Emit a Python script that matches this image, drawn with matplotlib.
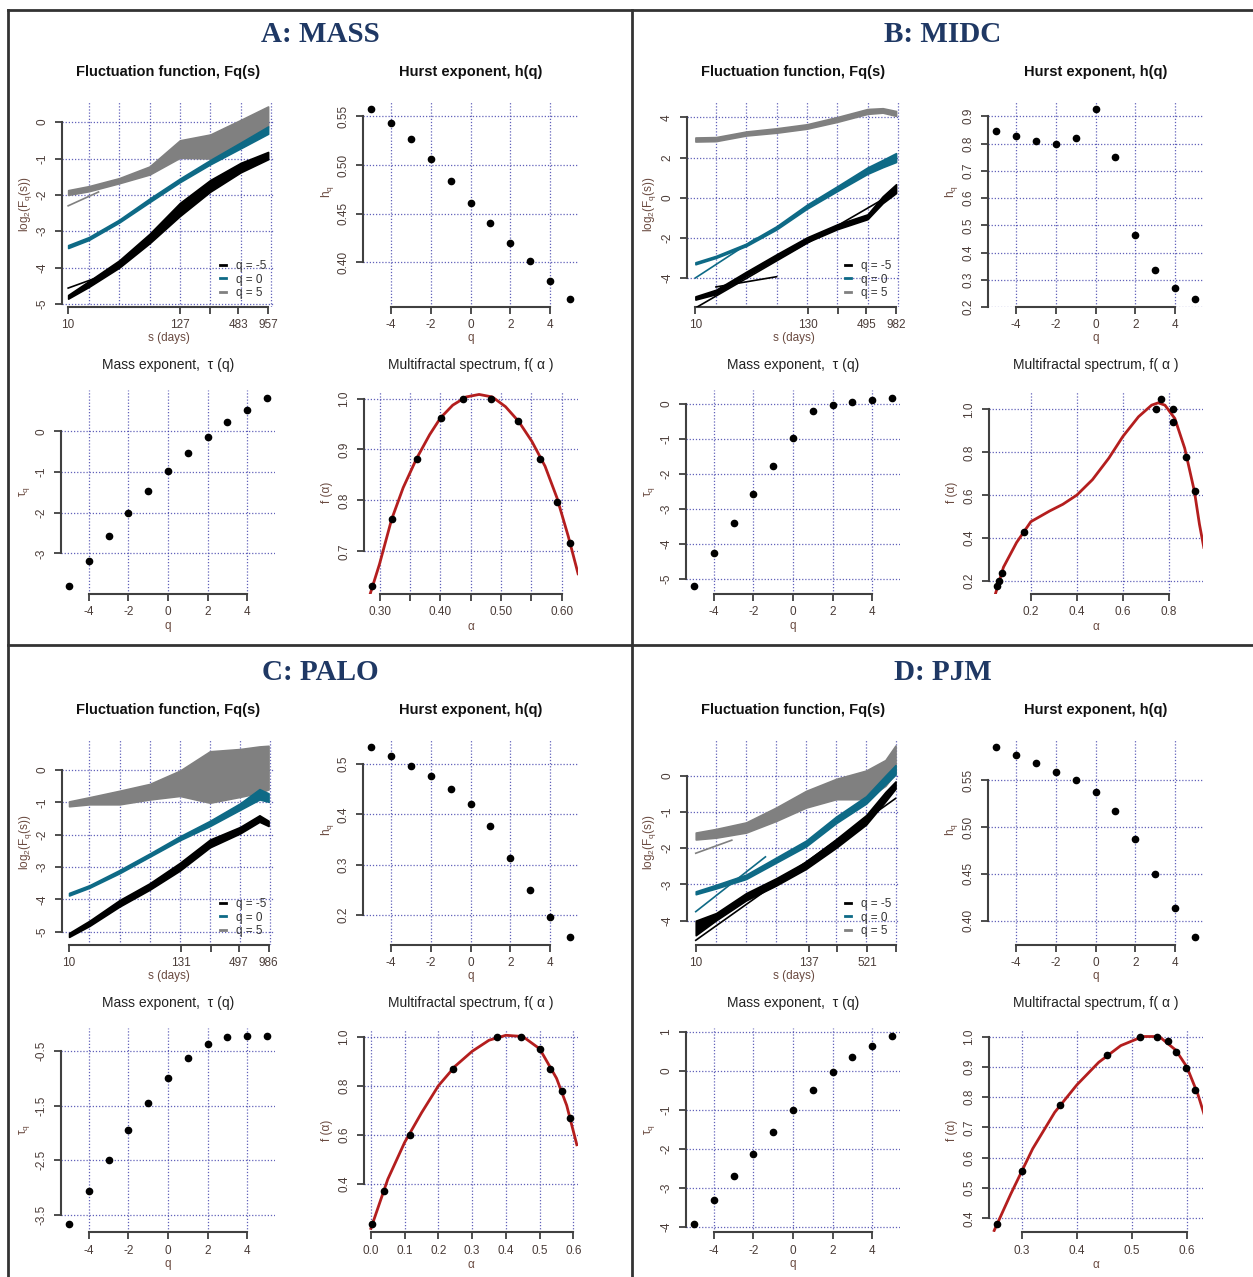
import numpy as np
import matplotlib
matplotlib.use("Agg")
import matplotlib.pyplot as plt
from matplotlib.lines import Line2D

# ---------------- data ----------------
Q = [-5, -4, -3, -2, -1, 0, 1, 2, 3, 4, 5]

hurst_A = [0.558, 0.5435, 0.527, 0.506, 0.484, 0.461, 0.440, 0.420, 0.401, 0.381, 0.362]
hurst_B = [0.846, 0.826, 0.808, 0.798, 0.822, 0.928, 0.752, 0.465, 0.337, 0.269, 0.228]
hurst_C = [0.535, 0.517, 0.497, 0.477, 0.451, 0.420, 0.376, 0.314, 0.249, 0.195, 0.155]
hurst_D = [0.586, 0.577, 0.568, 0.559, 0.550, 0.538, 0.517, 0.487, 0.450, 0.413, 0.382]

tau_A = [-3.81, -3.19, -2.58, -2.00, -1.475, -0.986, -0.538, -0.147, 0.22, 0.53, 0.83]
tau_B = [-5.21, -4.27, -3.39, -2.58, -1.79, -0.97, -0.226, -0.047, 0.047, 0.094, 0.17]
tau_C = [-3.675, -3.07, -2.49, -1.95, -1.45, -1.0, -0.624, -0.372, -0.253, -0.22, -0.225]
tau_D = [-3.93, -3.31, -2.70, -2.12, -1.55, -1.0, -0.483, -0.025, 0.35, 0.653, 0.908]

alpha_A = [0.2875, 0.320, 0.361, 0.4005, 0.438, 0.483, 0.528, 0.565, 0.592, 0.614]
f_A = [0.631, 0.763, 0.882, 0.962, 1.0, 1.0, 0.955, 0.881, 0.797, 0.716]
curve_alpha_A = [0.2848, 0.30, 0.32, 0.339, 0.361, 0.3826, 0.4005, 0.4207, 0.4424, 0.4641,
                 0.486, 0.5076, 0.5293, 0.551, 0.5728, 0.5924, 0.6109, 0.6272]
curve_f_A = [0.617, 0.675, 0.763, 0.825, 0.882, 0.929, 0.962, 0.987, 1.003, 1.008,
             1.003, 0.984, 0.955, 0.916, 0.867, 0.805, 0.73, 0.656]

alpha_B = [0.0525, 0.061, 0.074, 0.17, 0.743, 0.766, 0.817, 0.820, 0.874, 0.914]
f_B = [0.175, 0.2, 0.238, 0.427, 1.0, 1.051, 1.0, 0.943, 0.778, 0.622]
curve_alpha_B = [0.045, 0.081, 0.138, 0.2, 0.282, 0.339, 0.4, 0.468, 0.539, 0.6, 0.668,
                 0.725, 0.754, 0.783, 0.826, 0.869, 0.911, 0.933, 0.952]
curve_f_B = [0.137, 0.265, 0.38, 0.477, 0.527, 0.558, 0.601, 0.673, 0.773, 0.874, 0.966,
             1.02, 1.031, 1.02, 0.958, 0.819, 0.619, 0.465, 0.357]

alpha_C = [0.003, 0.038, 0.115, 0.244, 0.374, 0.444, 0.50, 0.532, 0.565, 0.59]
f_C = [0.236, 0.372, 0.60, 0.87, 1.0, 1.0, 0.95, 0.87, 0.78, 0.67]
curve_alpha_C = [0.0, 0.05, 0.1, 0.15, 0.2, 0.25, 0.3, 0.35, 0.4, 0.45, 0.5, 0.55, 0.58, 0.61]
curve_f_C = [0.22, 0.42, 0.57, 0.69, 0.80, 0.88, 0.94, 0.985, 1.005, 1.0, 0.95, 0.83, 0.72, 0.56]

alpha_D = [0.255, 0.30, 0.37, 0.455, 0.515, 0.545, 0.565, 0.58, 0.598, 0.615]
f_D = [0.38, 0.555, 0.775, 0.94, 1.0, 1.0, 0.985, 0.95, 0.895, 0.825]
curve_alpha_D = [0.25, 0.28, 0.32, 0.36, 0.40, 0.44, 0.48, 0.52, 0.55, 0.58, 0.60, 0.62, 0.632]
curve_f_D = [0.36, 0.48, 0.63, 0.75, 0.84, 0.915, 0.97, 1.0, 1.0, 0.955, 0.9, 0.81, 0.74]

# fluctuation functions: envelopes read along s (days)
s_A = [10, 16, 32, 64, 128, 256, 512, 957]
gray_lo_A = [-2.00, -1.90, -1.68, -1.44, -0.98, -1.00, -0.58, -0.12]
gray_hi_A = [-1.87, -1.76, -1.54, -1.22, -0.50, -0.34, 0.06, 0.43]
teal_mid_A = [-3.42, -3.20, -2.72, -2.15, -1.60, -1.10, -0.64, -0.22]
teal_sp_A = [0.04, 0.04, 0.04, 0.05, 0.05, 0.06, 0.08, 0.10]
black_mid_A = [-4.80, -4.45, -3.90, -3.20, -2.40, -1.75, -1.25, -0.92]
black_sp_A = [0.05, 0.08, 0.10, 0.13, 0.18, 0.16, 0.13, 0.10]

s_B = [10, 16, 32, 64, 128, 256, 512, 724, 982]
gray_lo_B = [2.80, 2.82, 3.10, 3.24, 3.44, 3.78, 4.18, 4.24, 4.08]
gray_hi_B = [3.00, 3.02, 3.30, 3.46, 3.66, 4.02, 4.42, 4.46, 4.32]
teal_mid_B = [-3.27, -2.95, -2.35, -1.50, -0.45, 0.45, 1.35, 1.70, 2.00]
teal_sp_B = [0.05, 0.05, 0.06, 0.08, 0.10, 0.12, 0.16, 0.18, 0.22]
black_mid_B = [-5.00, -4.70, -3.80, -2.94, -2.10, -1.45, -0.95, -0.10, 0.45]
black_sp_B = [0.08, 0.11, 0.11, 0.12, 0.12, 0.12, 0.12, 0.17, 0.22]

s_C = [10, 16, 32, 64, 128, 256, 512, 800, 986]
gray_lo_C = [-1.12, -1.06, -1.06, -0.91, -0.80, -1.01, -0.83, -0.70, -0.60]
gray_hi_C = [-0.97, -0.84, -0.64, -0.43, -0.02, 0.58, 0.65, 0.73, 0.75]
teal_mid_C = [-3.84, -3.60, -3.14, -2.63, -2.11, -1.65, -1.13, -0.75, -0.85]
teal_sp_C = [0.04, 0.04, 0.05, 0.05, 0.06, 0.08, 0.10, 0.16, 0.13]
black_mid_C = [-5.10, -4.74, -4.12, -3.60, -2.99, -2.27, -1.86, -1.50, -1.65]
black_sp_C = [0.06, 0.08, 0.10, 0.10, 0.12, 0.12, 0.10, 0.10, 0.08]

s_D = [10, 16, 32, 64, 128, 256, 512, 800, 1010]
gray_lo_D = [-1.76, -1.71, -1.57, -1.25, -0.88, -0.65, -0.65, -0.28, 0.07]
gray_hi_D = [-1.57, -1.47, -1.29, -0.88, -0.42, -0.09, 0.14, 0.43, 0.83]
teal_mid_D = [-3.23, -3.06, -2.79, -2.33, -1.87, -1.22, -0.67, -0.12, 0.16]
teal_sp_D = [0.04, 0.05, 0.06, 0.07, 0.08, 0.09, 0.10, 0.12, 0.13]
black_mid_D = [-4.20, -3.89, -3.34, -2.93, -2.47, -1.87, -1.22, -0.58, -0.26]
black_sp_D = [0.20, 0.10, 0.10, 0.10, 0.10, 0.12, 0.13, 0.13, 0.10]

# short regression segments drawn on the fluctuation plots
fit_A = [([10, 20], [-2.30, -1.92], 'gray'), ([10, 19], [-4.56, -4.28], 'black')]
fit_B = [([10, 982], [-5.5, 0.3], 'black'), ([16, 64], [-4.45, -3.94], 'black'),
         ([10, 40], [-4.0, -2.03], 'teal')]
fit_C = []
fit_D = [([10, 23], [-2.14, -1.78], 'gray'), ([10, 50], [-3.75, -2.24], 'teal'),
         ([10, 1010], [-4.54, -0.63], 'black')]

legend_labels = ['q = -5', 'q = 0', 'q = 5']
panel_names = ['A: MASS', 'B: MIDC', 'C: PALO', 'D: PJM']

# ---------------- style ----------------
plt.rcParams['font.family'] = ['Liberation Sans', 'DejaVu Sans']
plt.rcParams['mathtext.default'] = 'regular'

COL = {'black': '#000000', 'teal': '#0e6a86', 'gray': '#808080'}
GRID_C = '#3a3aa8'
AX_C = '#404040'
TICK_C = '#4a3c38'
LAB_C = '#6a4a40'
RED = '#b41e1e'

W, H = 1253, 1277
fig = plt.figure(figsize=(W / 100, H / 100), dpi=100)


def rect(l, t, r, b):
    return [l / W, 1 - b / H, (r - l) / W, (b - t) / H]


def ftext(x, y, s, **kw):
    fig.text(x / W, 1 - y / H, s, **kw)


def rlim(vals):
    lo, hi = min(vals), max(vals)
    d = (hi - lo) * 0.04
    return lo - d, hi + d


def style(ax, xt, xtl, yt, ytl, xgrid, ygrid, xlim, ylim):
    ax.set_facecolor('none')
    for sp in ('top', 'right'):
        ax.spines[sp].set_visible(False)
    for sp in ('left', 'bottom'):
        ax.spines[sp].set_color(AX_C)
        ax.spines[sp].set_linewidth(1.5)
    for g in xgrid:
        ax.axvline(g, color=GRID_C, ls=(0, (1, 1.5)), lw=0.9, alpha=0.8, zorder=1)
    for g in ygrid:
        ax.axhline(g, color=GRID_C, ls=(0, (1, 1.5)), lw=0.9, alpha=0.8, zorder=1)
    ax.set_xticks(xt)
    ax.set_xticklabels(xtl)
    ax.set_yticks(yt)
    ax.set_yticklabels(ytl, rotation=90, va='center')
    ax.minorticks_off()
    ax.tick_params(direction='out', length=5, width=1.3, color=AX_C,
                   labelsize=8.5, labelcolor=TICK_C)
    ax.tick_params(axis='x', pad=4)
    ax.tick_params(axis='y', pad=5)
    ax.set_xlim(*xlim)
    ax.set_ylim(*ylim)
    ax.spines['left'].set_bounds(yt[0], yt[-1])
    ax.spines['bottom'].set_bounds(xt[0], xt[-1])


fluct = [
    dict(s=s_A, gray=(gray_lo_A, gray_hi_A), teal=(teal_mid_A, teal_sp_A), black=(black_mid_A, black_sp_A),
         fits=fit_A, xt=[10, 127, 254, 483, 957], xtl=['10', '127', '', '483', '957'],
         yt=[-5, -4, -3, -2, -1, 0], xlim=(8.69, 1120), ylim=(-5.08, 0.58)),
    dict(s=s_B, gray=(gray_lo_B, gray_hi_B), teal=(teal_mid_B, teal_sp_B), black=(black_mid_B, black_sp_B),
         fits=fit_B, xt=[10, 130, 260, 495, 982], xtl=['10', '130', '', '495', '982'],
         yt=[-4, -2, 0, 2, 4], xlim=(8.25, 1075), ylim=(-5.45, 4.82)),
    dict(s=s_C, gray=(gray_lo_C, gray_hi_C), teal=(teal_mid_C, teal_sp_C), black=(black_mid_C, black_sp_C),
         fits=fit_C, xt=[10, 131, 262, 497, 986], xtl=['10', '131', '', '497', '986'],
         yt=[-5, -4, -3, -2, -1, 0], xlim=(8.5, 1144), ylim=(-5.41, 0.96)),
    dict(s=s_D, gray=(gray_lo_D, gray_hi_D), teal=(teal_mid_D, teal_sp_D), black=(black_mid_D, black_sp_D),
         fits=fit_D, xt=[10, 137, 260, 521, 1010], xtl=['10', '137', '', '521', ''],
         yt=[-4, -3, -2, -1, 0], xlim=(8.17, 1120), ylim=(-4.67, 1.01)),
]

hursts = [
    (hurst_A, [0.40, 0.45, 0.50, 0.55], ['0.40', '0.45', '0.50', '0.55']),
    (hurst_B, [0.2, 0.3, 0.4, 0.5, 0.6, 0.7, 0.8, 0.9], ['0.2', '0.3', '0.4', '0.5', '0.6', '0.7', '0.8', '0.9']),
    (hurst_C, [0.2, 0.3, 0.4, 0.5], ['0.2', '0.3', '0.4', '0.5']),
    (hurst_D, [0.40, 0.45, 0.50, 0.55], ['0.40', '0.45', '0.50', '0.55']),
]
taus = [
    (tau_A, [-3, -2, -1, 0], ['-3', '-2', '-1', '0']),
    (tau_B, [-5, -4, -3, -2, -1, 0], ['-5', '-4', '-3', '-2', '-1', '0']),
    (tau_C, [-3.5, -2.5, -1.5, -0.5], ['-3.5', '-2.5', '-1.5', '-0.5']),
    (tau_D, [-4, -3, -2, -1, 0, 1], ['-4', '-3', '-2', '-1', '0', '1']),
]
specs = [
    (alpha_A, f_A, curve_alpha_A, curve_f_A,
     [0.30, 0.35, 0.40, 0.45, 0.50, 0.55, 0.60], ['0.30', '', '0.40', '', '0.50', '', '0.60'],
     [0.7, 0.8, 0.9, 1.0], ['0.7', '0.8', '0.9', '1.0']),
    (alpha_B, f_B, curve_alpha_B, curve_f_B,
     [0.2, 0.4, 0.6, 0.8], ['0.2', '0.4', '0.6', '0.8'],
     [0.2, 0.4, 0.6, 0.8, 1.0], ['0.2', '0.4', '0.6', '0.8', '1.0']),
    (alpha_C, f_C, curve_alpha_C, curve_f_C,
     [0.0, 0.1, 0.2, 0.3, 0.4, 0.5, 0.6], ['0.0', '0.1', '0.2', '0.3', '0.4', '0.5', '0.6'],
     [0.4, 0.6, 0.8, 1.0], ['0.4', '0.6', '0.8', '1.0']),
    (alpha_D, f_D, curve_alpha_D, curve_f_D,
     [0.3, 0.4, 0.5, 0.6], ['0.3', '0.4', '0.5', '0.6'],
     [0.4, 0.5, 0.6, 0.7, 0.8, 0.9, 1.0], ['0.4', '0.5', '0.6', '0.7', '0.8', '0.9', '1.0']),
]

QT = [-4, -2, 0, 2, 4]
QTL = ['-4', '-2', '0', '2', '4']
offsets = [(0, 0), (625, 0), (0, 638), (625, 638)]

for i, (dx, dy) in enumerate(offsets):
    # panel heading
    ftext(320 + dx * 0.997, 34 + dy, panel_names[i], ha='center', va='center',
          family=['Liberation Serif', 'DejaVu Serif'], fontweight='bold', fontsize=21, color='#1f3864')

    # ---- fluctuation function ----
    fd = fluct[i]
    L, T, Rr, B = 62 + dx, 101 + dy, 275 + dx, 307 + dy
    ax = fig.add_axes(rect(L, T, Rr, B))
    s = fd['s']
    glo, ghi = fd['gray']
    ax.fill_between(s, glo, ghi, color=COL['gray'], edgecolor=COL['gray'], lw=1.2, zorder=3)
    tm, tsp = fd['teal']
    ax.fill_between(s, np.array(tm) - np.array(tsp), np.array(tm) + np.array(tsp),
                    color=COL['teal'], edgecolor=COL['teal'], lw=1.2, zorder=3)
    bm, bsp = fd['black']
    ax.fill_between(s, np.array(bm) - np.array(bsp), np.array(bm) + np.array(bsp),
                    color=COL['black'], edgecolor=COL['black'], lw=1.2, zorder=3)
    for fs, fv, c in fd['fits']:
        ax.plot(fs, fv, color=COL[c], lw=1.2, zorder=4)
    ax.set_xscale('log', base=2)
    style(ax, fd['xt'], fd['xtl'], fd['yt'], [str(v) for v in fd['yt']],
          [16, 32, 64, 128, 256, 512, 1024], fd['yt'], fd['xlim'], fd['ylim'])
    handles = [Line2D([], [], color=COL[c], lw=2) for c in ('black', 'teal', 'gray')]
    ax.legend(handles, legend_labels, loc='lower right', bbox_to_anchor=(1.0, 0.0),
              frameon=False, fontsize=8.5, handlelength=0.5, handletextpad=0.9,
              labelspacing=0.1, borderaxespad=0.3, labelcolor='#333333')
    ftext((L + Rr) / 2, 72 + dy, 'Fluctuation function, Fq(s)', ha='center', va='center',
          fontsize=10.5, fontweight='bold', color='#111111')
    ftext((L + Rr) / 2, B + 31, 's (days)', ha='center', va='center', fontsize=8.5, color=LAB_C)
    ftext(L - 37, (T + B) / 2, r'$log_2(F_q(s))$', ha='center', va='center', rotation=90,
          fontsize=8.5, color=LAB_C)

    # ---- Hurst exponent ----
    hv, hyt, hytl = hursts[i]
    L, T, Rr, B = 363 + dx, 101 + dy, 578 + dx, 307 + dy
    ax = fig.add_axes(rect(L, T, Rr, B))
    ax.plot(Q, hv, 'o', color='black', ms=4.5, zorder=5)
    style(ax, QT, QTL, hyt, hytl, QT, hyt, rlim(Q), rlim(hv))
    ftext((L + Rr) / 2, 72 + dy, 'Hurst exponent, h(q)', ha='center', va='center',
          fontsize=10.5, fontweight='bold', color='#111111')
    ftext((L + Rr) / 2, B + 31, 'q', ha='center', va='center', fontsize=8.5, color=LAB_C)
    ftext(L - 36, (T + B) / 2 - 12, r'$h_q$', ha='center', va='center', rotation=90,
          fontsize=8.5, color=LAB_C)

    # ---- Mass exponent ----
    tv, tyt, tytl = taus[i]
    L, T, Rr, B = 61 + dx, 390 + dy, 275 + dx, 594 + dy
    ax = fig.add_axes(rect(L, T, Rr, B))
    ax.plot(Q, tv, 'o', color='black', ms=4.5, zorder=5)
    style(ax, QT, QTL, tyt, tytl, QT, tyt, rlim(Q), rlim(tv))
    ftext((L + Rr) / 2, 365 + dy, 'Mass exponent,  τ (q)', ha='center', va='center',
          fontsize=10, color='#222222')
    ftext((L + Rr) / 2, B + 32, 'q', ha='center', va='center', fontsize=8.5, color=LAB_C)
    ftext(L - 37, (T + B) / 2, r'$\tau_q$', ha='center', va='center', rotation=90,
          fontsize=8.5, color=LAB_C)

    # ---- Multifractal spectrum ----
    av, fv, ca, cf, sxt, sxtl, syt, sytl = specs[i]
    L, T, Rr, B = 364 + dx, 391 + dy, 578 + dx, 594 + dy
    ax = fig.add_axes(rect(L, T, Rr, B))
    ax.plot(ca, cf, color=RED, lw=2, zorder=4)
    ax.plot(av, fv, 'o', color='black', ms=4.5, zorder=5)
    style(ax, sxt, sxtl, syt, sytl, sxt, syt, rlim(av), rlim(fv))
    ftext((L + Rr) / 2, 365 + dy, 'Multifractal spectrum, f( α )', ha='center', va='center',
          fontsize=10, color='#222222')
    ftext((L + Rr) / 2, B + 33, 'α', ha='center', va='center', fontsize=8.5, color=LAB_C)
    ftext(L - 37, (T + B) / 2, 'f (α)', ha='center', va='center', rotation=90,
          fontsize=8.5, color=LAB_C)

# quadrant frame lines
for (x0, y0, x1, y1) in [(8, 10, 8, 1277), (8, 10, 1253, 10), (632, 10, 632, 1277),
                         (8, 645, 1253, 645)]:
    fig.add_artist(Line2D([x0 / W, x1 / W], [1 - y0 / H, 1 - y1 / H], color='#333333',
                          lw=2, transform=fig.transFigure))

fig.savefig('out.png', dpi=100, facecolor='white')
